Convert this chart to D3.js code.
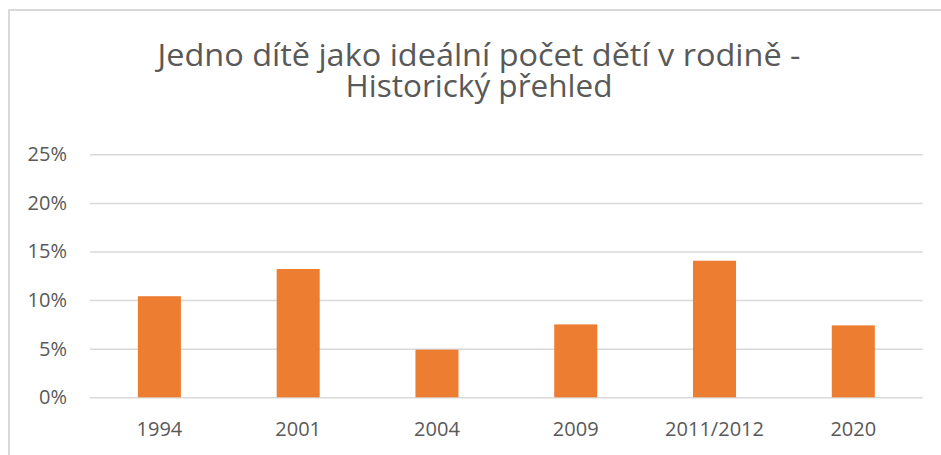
<!DOCTYPE html>
<html>
<head>
<meta charset="utf-8">
<script src="https://cdn.jsdelivr.net/npm/d3@7"></script>
<style>
  body { margin: 0; background: #fff; }
  svg { display: block; font-family: "Open Sans", sans-serif; }
</style>
</head>
<body>
<svg id="chart" width="941" height="455"></svg>
<script>
const titleLines = ["Jedno dítě jako ideální počet dětí v rodině -", "Historický přehled"];
const years = ["1994", "2001", "2004", "2009", "2011/2012", "2020"];
const shares = [0.104, 0.132, 0.049, 0.075, 0.1405, 0.074];
const yTicks = [0, 0.05, 0.10, 0.15, 0.20, 0.25];

const width = 941;
const height = 455;
const svg = d3.select("#chart");

// chart frame
svg.append("rect")
  .attr("x", 9).attr("y", 10)
  .attr("width", width + 20).attr("height", height + 20)
  .attr("fill", "none")
  .attr("stroke", "#d9d9d9")
  .attr("stroke-width", 2);

const plot = { left: 90, right: 922.7, top: 154.3, bottom: 397.3 };

const xScale = d3.scaleBand()
  .domain(years)
  .range([plot.left, plot.right])
  .paddingInner(0.69)
  .paddingOuter(0.345);

const yScale = d3.scaleLinear()
  .domain([0, 0.25])
  .range([plot.bottom, plot.top]);

// gridlines
svg.append("g")
  .attr("class", "gridlines")
  .attr("transform", `translate(${plot.left}, 0)`)
  .call(d3.axisLeft(yScale).tickValues(yTicks).tickFormat("").tickSize(-(plot.right - plot.left)))
  .call(g => g.select(".domain").remove())
  .call(g => g.selectAll("line").attr("stroke", "#d9d9d9").attr("stroke-width", 1.5));

// bars
svg.append("g")
  .selectAll("rect")
  .data(years)
  .join("rect")
  .attr("x", (d) => xScale(d))
  .attr("width", xScale.bandwidth())
  .attr("y", (d, i) => yScale(shares[i]))
  .attr("height", (d, i) => yScale(0) - yScale(shares[i]))
  .attr("fill", "#ed7d31");

// y axis labels
svg.append("g")
  .attr("transform", `translate(${plot.left}, 0)`)
  .call(d3.axisLeft(yScale).tickValues(yTicks).tickFormat((d) => Math.round(d * 100) + "%").tickSize(0).tickPadding(23))
  .call(g => g.select(".domain").remove())
  .call(g => g.selectAll("text")
    .attr("fill", "#595959")
    .style("font-size", "20px")
    .style("font-family", "'Open Sans', sans-serif"));

// x axis labels
svg.append("g")
  .attr("transform", `translate(0, ${plot.bottom})`)
  .call(d3.axisBottom(xScale).tickSize(0).tickPadding(0))
  .call(g => g.select(".domain").remove())
  .call(g => g.selectAll("text")
    .attr("y", 39)
    .attr("dy", 0)
    .attr("fill", "#595959")
    .style("font-size", "20px")
    .style("font-family", "'Open Sans', sans-serif"));

// title, one text per line, fitted to the reference widths
const titleWidths = [643, 267];
titleLines.forEach((line, i) => {
  svg.append("text")
    .attr("text-anchor", "middle")
    .attr("x", 479)
    .attr("y", 66 + i * 31)
    .attr("fill", "#595959")
    .style("font-size", "31px")
    .attr("textLength", titleWidths[i])
    .attr("lengthAdjust", "spacingAndGlyphs")
    .text(line);
});
</script>
</body>
</html>
